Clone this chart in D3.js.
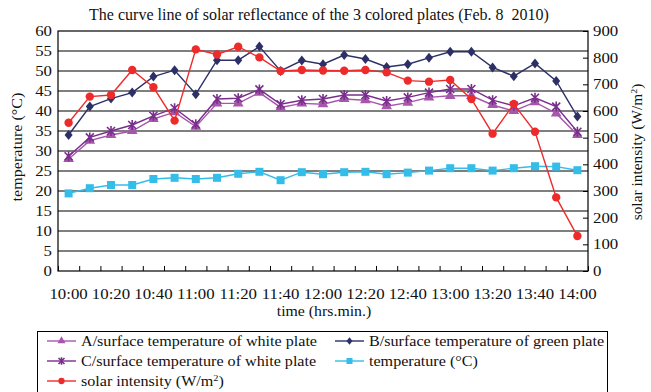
<!DOCTYPE html>
<html>
<head>
<meta charset="utf-8">
<script src="https://cdn.jsdelivr.net/npm/d3@7"></script>
<style>
  body { margin: 0; background: #fff; }
  text { font-family: "Liberation Serif", "DejaVu Serif", serif; fill: #111; }
</style>
</head>
<body>
<div id="chart"></div>
<script>
// categories (10-minute steps)
var times = ["10:00","10:10","10:20","10:30","10:40","10:50","11:00","11:10","11:20","11:30",
             "11:40","11:50","12:00","12:10","12:20","12:30","12:40","12:50","13:00","13:10",
             "13:20","13:30","13:40","13:50","14:00"];
var timeLabels = ["10:00","10:20","10:40","11:00","11:20","11:40","12:00","12:20","12:40","13:00","13:20","13:40","14:00"];

// series values (left axis, deg C)
var plateA = [28.0,32.6,34.0,35.0,38.0,39.7,36.1,41.9,41.9,44.6,40.9,41.9,41.7,43.0,42.7,41.2,42.1,43.4,43.8,43.8,41.5,40.0,42.2,39.4,34.0];
var plateB = [34.0,41.1,43.1,44.6,48.6,50.2,44.2,52.7,52.7,56.1,50.0,52.6,51.7,54.0,53.0,51.0,51.7,53.3,54.8,54.8,50.9,48.7,51.9,47.5,38.6];
var plateC = [28.7,33.4,35.0,36.5,38.8,40.7,36.7,43.0,43.2,45.4,41.7,42.7,43.0,44.0,44.0,42.5,43.4,44.6,45.5,45.5,42.7,41.3,43.3,41.1,34.8];
var airTemp = [19.4,20.7,21.5,21.5,23.0,23.3,23.0,23.3,24.3,24.8,22.7,24.7,24.2,24.7,24.8,24.2,24.6,25.1,25.7,25.7,25.1,25.7,26.2,26.1,25.2];
// right axis, W/m2
var solar = [556,654,660,754,689,564,831,812,841,801,750,754,752,751,754,745,714,710,716,645,515,626,522,276,131];

var leftTicks = [0,5,10,15,20,25,30,35,40,45,50,55,60];
var rightTicks = [0,100,200,300,400,500,600,700,800,900];

var width = 651, height = 392;
var plot = { left: 58, right: 588, top: 31, bottom: 271 };

var svg = d3.select("#chart").append("svg")
    .attr("width", width).attr("height", height);

// the reference text is a bit wider than the font, so stretch it
function stretch(sel, k) {
    sel.each(function () {
        var len = this.getComputedTextLength();
        d3.select(this).attr("textLength", len * k).attr("lengthAdjust", "spacingAndGlyphs");
    });
}

var x = d3.scaleLinear().domain([-0.5, times.length - 0.5]).range([plot.left, plot.right]);
var yL = d3.scaleLinear().domain([0, 60]).range([plot.bottom, plot.top]);
var yR = d3.scaleLinear().domain([0, 900]).range([plot.bottom, plot.top]);

//Grid lines
svg.append("g").selectAll("line").data(leftTicks.slice(1, -1)).join("line")
    .attr("x1", plot.left).attr("x2", plot.right)
    .attr("y1", d => yL(d)).attr("y2", d => yL(d))
    .attr("stroke", "#000").attr("stroke-width", 1.2);

//Frame
svg.append("rect")
    .attr("x", plot.left).attr("y", plot.top)
    .attr("width", plot.right - plot.left).attr("height", plot.bottom - plot.top)
    .attr("fill", "none").attr("stroke", "#000").attr("stroke-width", 1.2);

//Left axis
var leftAxis = svg.append("g")
    .attr("transform", `translate(${plot.left},0)`)
    .call(d3.axisLeft(yL).tickValues(leftTicks).tickSize(0).tickPadding(6));
leftAxis.select(".domain").remove();
leftAxis.selectAll("text").attr("font-size", 14).attr("font-family", "Liberation Serif").attr("fill", "#111")
    .call(stretch, 1.2);

//Right axis (ticks inside)
var rightAxis = svg.append("g")
    .attr("transform", `translate(${plot.right},0)`)
    .call(d3.axisRight(yR).tickValues(rightTicks).tickSizeInner(-5).tickSizeOuter(0).tickPadding(5));
rightAxis.select(".domain").remove();
rightAxis.selectAll("line").attr("stroke", "#000");
rightAxis.selectAll("text").attr("font-size", 14).attr("font-family", "Liberation Serif").attr("fill", "#111")
    .call(stretch, 1.2);

//Bottom ticks at category boundaries
var boundaries = d3.range(-0.5, times.length, 1);
var bottomAxis = svg.append("g")
    .attr("transform", `translate(0,${plot.bottom})`)
    .call(d3.axisBottom(x).tickValues(boundaries).tickSizeInner(-5).tickSizeOuter(0).tickFormat(""));
bottomAxis.select(".domain").remove();
bottomAxis.selectAll("line").attr("stroke", "#000");

//Time labels
svg.append("g").selectAll("text").data(timeLabels).join("text")
    .attr("x", d => x(times.indexOf(d)))
    .attr("y", 299)
    .attr("text-anchor", "middle")
    .attr("font-size", 14)
    .text(d => d)
    .call(stretch, 1.2);

//Titles
svg.append("text").attr("x", 319).attr("y", 20).attr("text-anchor", "middle")
    .style("white-space", "pre")
    .attr("font-size", 16).text("The curve line of solar reflectance of the 3 colored plates (Feb. 8  2010)");
svg.append("text").attr("x", 324).attr("y", 316).attr("text-anchor", "middle")
    .attr("font-size", 14).text("time (hrs.min.)").call(stretch, 1.13);
svg.append("text").attr("transform", "translate(22,147) rotate(-90)").attr("text-anchor", "middle")
    .attr("font-size", 14).text("temperature (°C)").call(stretch, 1.15);
var rt = svg.append("text").attr("transform", "translate(642,152) rotate(-90)").attr("text-anchor", "middle")
    .attr("font-size", 14);
rt.append("tspan").text("solar intensity (W/m");
rt.append("tspan").attr("font-size", 9).attr("dy", -5).text("2");
rt.append("tspan").attr("dy", 5).text(")");
rt.call(stretch, 1.1);

//Markers
function drawMarker(g, type, color, s) {
    s = s || 1;
    if (type === "triangle") {
        g.append("path").attr("d", d3.symbol(d3.symbolTriangle, 50 * s * s)()).attr("fill", color);
    } else if (type === "diamond") {
        g.append("path").attr("d", `M0,${-5 * s}L${4 * s},0L0,${5 * s}L${-4 * s},0Z`).attr("fill", color);
    } else if (type === "square") {
        g.append("rect").attr("x", -4 * s).attr("y", -4 * s).attr("width", 8 * s).attr("height", 8 * s).attr("fill", color);
    } else if (type === "circle") {
        g.append("circle").attr("r", 4.2 * s).attr("fill", color);
    } else if (type === "star") {
        g.append("path").attr("d", `M${-4 * s},${-4 * s}L${4 * s},${4 * s}M${-4 * s},${4 * s}L${4 * s},${-4 * s}M0,${-5 * s}L0,${5 * s}`)
            .attr("stroke", color).attr("stroke-width", 1.6).attr("fill", "none");
    }
}

var series = [
    { name: "A/surface temperature of white plate", values: plateA, axis: yL, color: "#A657AC", marker: "triangle" },
    { name: "C/surface temperature of white plate", values: plateC, axis: yL, color: "#7A2E8C", marker: "star" },
    { name: "B/surface temperature of green plate", values: plateB, axis: yL, color: "#2C3066", marker: "diamond" },
    { name: "temperature (°C)", values: airTemp, axis: yL, color: "#33BDE8", marker: "square" },
    { name: "solar intensity (W/m", values: solar, axis: yR, color: "#EE2B2B", marker: "circle", sup: "2" }
];

var drawOrder = [3, 0, 1, 2, 4];
drawOrder.forEach(function (k) {
    var s = series[k];
    var line = d3.line().x((d, i) => x(i)).y(d => s.axis(d));
    svg.append("path").attr("d", line(s.values))
        .attr("fill", "none").attr("stroke", s.color).attr("stroke-width", 1.4);
    s.values.forEach(function (v, i) {
        var g = svg.append("g").attr("transform", `translate(${x(i)},${s.axis(v)})`);
        drawMarker(g, s.marker, s.color);
    });
});

//Legend
svg.append("rect").attr("x", 37.5).attr("y", 331.5).attr("width", 570).attr("height", 80)
    .attr("fill", "#fff").attr("stroke", "#000").attr("stroke-width", 1);

var legendPos = [
    { s: 0, x: 47, y: 341 }, { s: 2, x: 335, y: 341 },
    { s: 1, x: 47, y: 361 }, { s: 3, x: 335, y: 361 },
    { s: 4, x: 47, y: 381 }
];
legendPos.forEach(function (p) {
    var s = series[p.s];
    svg.append("line").attr("x1", p.x).attr("x2", p.x + 29).attr("y1", p.y).attr("y2", p.y)
        .attr("stroke", s.color).attr("stroke-width", 1.4);
    var g = svg.append("g").attr("transform", `translate(${p.x + 14.5},${p.y})`);
    drawMarker(g, s.marker, s.color, 0.75);
    var t = svg.append("text").attr("x", p.x + 34).attr("y", p.y + 5).attr("font-size", 14);
    t.append("tspan").text(s.name);
    if (s.sup) {
        t.append("tspan").attr("font-size", 9).attr("dy", -5).text(s.sup);
        t.append("tspan").attr("dy", 5).text(")");
    }
    t.call(stretch, 1.15);
});
</script>
</body>
</html>
